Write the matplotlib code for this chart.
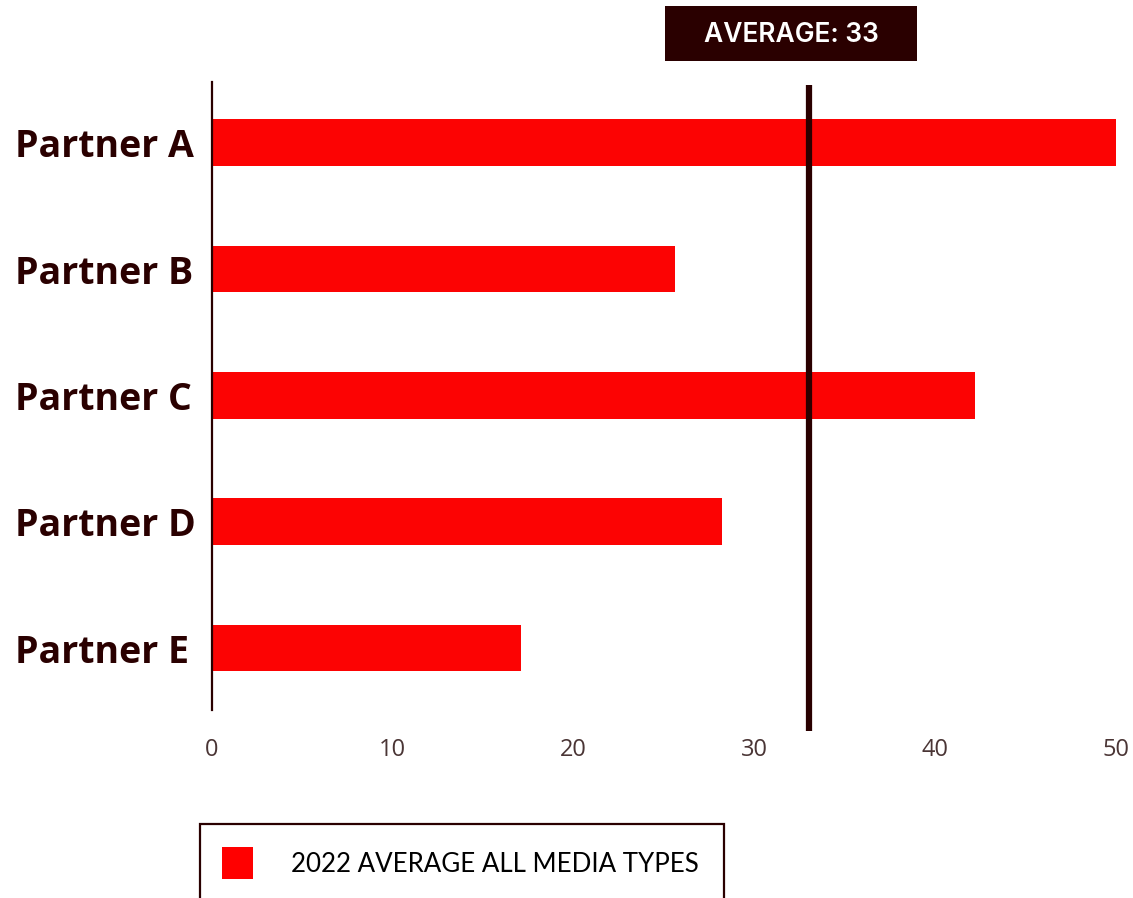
import matplotlib
matplotlib.use("Agg")
import matplotlib.pyplot as plt
from matplotlib.patches import Rectangle
import numpy as np

partners = ["Partner A", "Partner B", "Partner C", "Partner D", "Partner E"]
scores = [50, 25.6, 42.2, 28.2, 17.1]
average = 33
legend_label = "2022 AVERAGE ALL MEDIA TYPES"
xticks = [0, 10, 20, 30, 40, 50]

dark = "#2a0000"
red = "#fc0303"

W, H = 1133, 898
fig = plt.figure(figsize=(W / 100, H / 100), dpi=100)
ax = fig.add_axes([212 / W, 1 - 710 / H, 904 / W, 628 / H])

y = np.arange(len(partners))
ax.barh(y, scores, height=0.37, color=red, zorder=2)

ax.set_xlim(0, 50)
ax.set_ylim(4.49, -0.48)
ax.set_yticks(y)
ax.set_yticklabels(partners, fontfamily="Open Sans", fontweight="bold",
                   fontsize=27, color=dark)
for lbl in ax.get_yticklabels():
    lbl.set_horizontalalignment("left")
ax.set_xticks(xticks)
ax.set_xticklabels([str(t) for t in xticks], fontfamily="Open Sans",
                   fontsize=17, color="#4a3535")
ax.tick_params(axis="both", length=0)
ax.tick_params(axis="y", pad=142)  # points; puts label starts near the left edge
ax.tick_params(axis="x", pad=20)

for side in ["top", "right", "bottom"]:
    ax.spines[side].set_visible(False)
ax.spines["left"].set_color(dark)
ax.spines["left"].set_linewidth(1.6)

# average marker runs a little past the plot area
ax.plot([average, average], [-0.46, 4.66], color=dark, lw=4.5,
        solid_capstyle="butt", clip_on=False, zorder=3)

# average label box
fig.patches.append(Rectangle((665 / W, 1 - 61 / H), 252 / W, 55 / H,
                             transform=fig.transFigure, fc=dark, ec="none"))
fig.text(791 / W, 1 - 35 / H, f"AVERAGE: {average}", ha="center", va="center",
         fontfamily="Inter", fontweight="semibold", fontsize=19, color="white")

# legend box, cut off by the bottom edge
fig.patches.append(Rectangle((200 / W, -0.05), 524 / W, (H - 824) / H + 0.05,
                             transform=fig.transFigure, fill=False, ec=dark, lw=1.6))
fig.patches.append(Rectangle((222 / W, 1 - 879 / H), 31 / W, 32 / H,
                             transform=fig.transFigure, fc="#ff0000", ec="none"))
fig.text(291 / W, 1 - 864 / H, legend_label, ha="left", va="center",
         fontfamily="Lato", fontsize=18.6, color="black")

fig.savefig("out.png", dpi=100, facecolor="white")
